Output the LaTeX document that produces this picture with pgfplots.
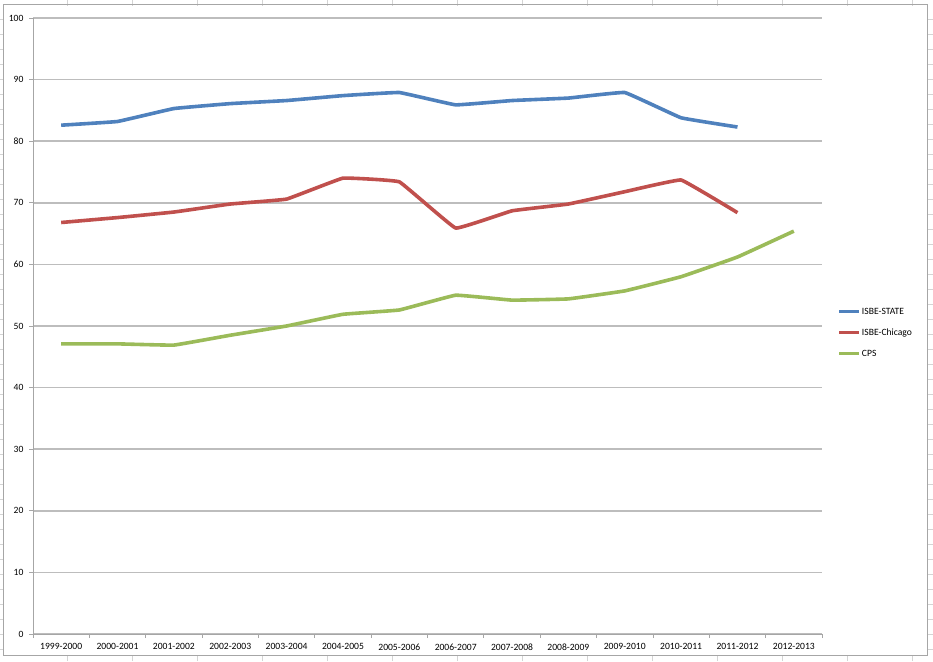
\documentclass[border=0pt]{standalone}
\usepackage{pgfplots}
\pgfplotsset{compat=1.18}
\usepackage{fontspec}
\setmainfont{Carlito}
\definecolor{xlblue}{HTML}{4F81BD}
\definecolor{xlred}{HTML}{C0504D}
\definecolor{xlgreen}{HTML}{9BBB59}
\definecolor{cellgrid}{HTML}{D4D4D4}
\definecolor{chartborder}{HTML}{A6A6A6}
\definecolor{gridgray}{HTML}{BDBDBD}
\begin{document}
\begin{tikzpicture}
\useasboundingbox (0pt,0pt) rectangle (933pt,661pt);
% spreadsheet cell grid around the chart object
\foreach \xx in {67,132,...,912} {
  \draw[cellgrid, line width=0.8pt] (\xx pt,655pt) -- (\xx pt,661pt);
  \draw[cellgrid, line width=0.8pt] (\xx pt,0pt) -- (\xx pt,6pt);
}
\foreach \yy in {642,627,...,10} {
  \draw[cellgrid, line width=0.8pt] (0pt,\yy pt) -- (3pt,\yy pt);
  \draw[cellgrid, line width=0.8pt] (927pt,\yy pt) -- (933pt,\yy pt);
}
\draw[chartborder, line width=1pt] (3pt,6pt) rectangle (927pt,656pt);
\begin{axis}[
  at={(33pt,27pt)}, anchor=south west,
  scale only axis, width=789pt, height=616pt,
  xmin=-0.5, xmax=13.5, ymin=0, ymax=100,
  xtick={0,...,13},
  xticklabels={1999-2000,2000-2001,2001-2002,2002-2003,2003-2004,2004-2005,2005-2006,2006-2007,2007-2008,2008-2009,2009-2010,2010-2011,2011-2012,2012-2013},
  minor xtick={-0.5,0.5,...,13.5},
  ytick={0,10,...,100},
  ymajorgrids,
  major grid style={gridgray, line width=1.5pt},
  axis x line*=bottom, axis y line*=left,
  axis line style={-, chartborder, line width=1pt},
  tick align=outside,
  major x tick style={draw=none},
  minor x tick style={chartborder, line width=0.8pt},
  major y tick style={chartborder, line width=0.8pt},
  major tick length=4pt, minor tick length=4pt,
  /pgf/number format/assume math mode=true,
  ticklabel style={font=\fontsize{9.6}{10}\selectfont},
  yticklabel style={xshift=-2pt},
  xticklabel style={yshift=-2pt},
  legend style={at={(1.02,0.489)}, anchor=west, draw=none, fill=none,
    font=\fontsize{9.6}{10}\selectfont, row sep=9pt, inner sep=0pt,
    nodes={inner xsep=1pt}},
  legend cell align=left,
  legend image code/.code={\draw[#1, line width=3pt] (0pt,0pt) -- (20pt,0pt);},
]
\addplot[xlblue, line width=3.6pt, line join=round, smooth, tension=0.12] coordinates {
(0,82.6) (1,83.2) (2,85.3) (3,86.1) (4,86.6) (5,87.4) (6,87.9) (7,85.9) (8,86.6) (9,87.0) (10,87.9) (11,83.8) (12,82.3)};
\addlegendentry{ISBE-STATE}
\addplot[xlred, line width=3.6pt, line join=round, smooth, tension=0.12] coordinates {
(0,66.8) (1,67.6) (2,68.5) (3,69.8) (4,70.6) (5,74.0) (6,73.4) (7,65.9) (8,68.7) (9,69.8) (10,71.8) (11,73.7) (12,68.4)};
\addlegendentry{ISBE-Chicago}
\addplot[xlgreen, line width=3.6pt, line join=round, smooth, tension=0.12] coordinates {
(0,47.1) (1,47.1) (2,46.9) (3,48.5) (4,50.0) (5,51.9) (6,52.6) (7,55.0) (8,54.2) (9,54.4) (10,55.7) (11,58.0) (12,61.2) (13,65.4)};
\addlegendentry{CPS}
\end{axis}
\end{tikzpicture}
\end{document}
